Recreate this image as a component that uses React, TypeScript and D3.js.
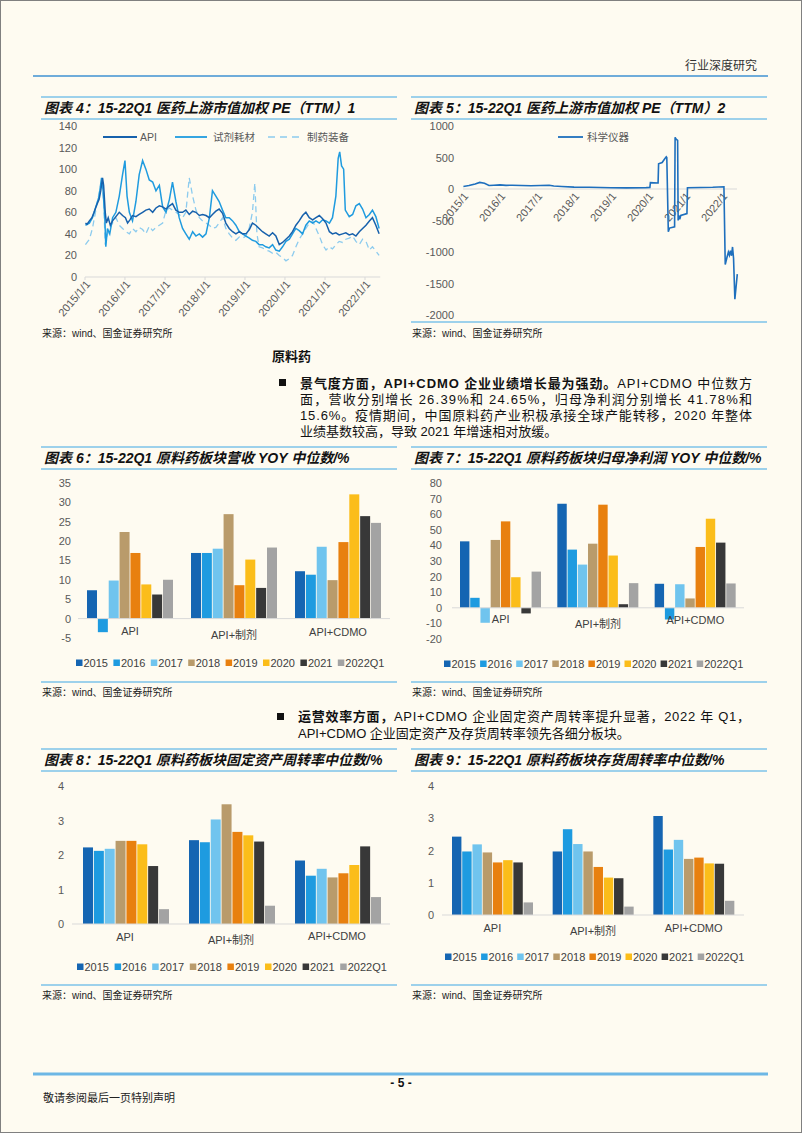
import React, { useEffect } from "react";
import * as d3 from "d3";

const W = 802;
const H = 1133;
const LATIN = "'Liberation Sans', Arial, 'Noto Sans CJK SC', sans-serif";
const BG = "#FEFBF1";
const TITLE_LINE = "#7DC3E8";

// ---------- Chart 4 data: PE (TTM) 1 ----------
const peAPI: [string, number][] = [
  ["2015-01-05", 50], ["2015-01-20", 49], ["2015-02-10", 52], ["2015-03-05", 55], ["2015-03-25", 60],
  ["2015-04-15", 66], ["2015-05-10", 72], ["2015-05-25", 80], ["2015-06-10", 92], ["2015-06-20", 85],
  ["2015-07-05", 60], ["2015-07-15", 50], ["2015-08-01", 55], ["2015-08-20", 48], ["2015-09-10", 52],
  ["2015-10-10", 56], ["2015-11-10", 60], ["2015-12-10", 57], ["2016-01-05", 55], ["2016-01-25", 50],
  ["2016-02-15", 53], ["2016-03-10", 57], ["2016-04-10", 56], ["2016-05-10", 58], ["2016-06-10", 60],
  ["2016-07-10", 62], ["2016-08-10", 63], ["2016-09-10", 60], ["2016-10-10", 64], ["2016-11-10", 66],
  ["2016-12-10", 65], ["2017-01-10", 63], ["2017-02-10", 66], ["2017-03-10", 68], ["2017-04-10", 62],
  ["2017-05-10", 60], ["2017-06-10", 60], ["2017-07-10", 62], ["2017-08-10", 58], ["2017-09-10", 61],
  ["2017-10-10", 60], ["2017-11-10", 57], ["2017-12-10", 58], ["2018-01-10", 57], ["2018-02-10", 55],
  ["2018-03-10", 58], ["2018-04-10", 61], ["2018-05-10", 63], ["2018-06-10", 59], ["2018-07-10", 50],
  ["2018-08-10", 45], ["2018-09-10", 42], ["2018-10-10", 40], ["2018-11-10", 42], ["2018-12-10", 40],
  ["2019-01-10", 40], ["2019-02-10", 44], ["2019-03-10", 50], ["2019-04-10", 48], ["2019-05-10", 45],
  ["2019-06-10", 42], ["2019-07-10", 40], ["2019-08-10", 38], ["2019-09-10", 41], ["2019-10-10", 38],
  ["2019-11-10", 30], ["2019-12-10", 32], ["2020-01-10", 35], ["2020-02-10", 38], ["2020-03-10", 42],
  ["2020-04-10", 48], ["2020-05-10", 52], ["2020-06-10", 57], ["2020-07-10", 60], ["2020-08-10", 55],
  ["2020-09-10", 53], ["2020-10-10", 55], ["2020-11-10", 57], ["2020-12-10", 54], ["2021-01-10", 50],
  ["2021-02-10", 42], ["2021-03-10", 40], ["2021-04-10", 41], ["2021-05-10", 39], ["2021-06-10", 40],
  ["2021-07-10", 41], ["2021-08-10", 39], ["2021-09-10", 40], ["2021-10-10", 38], ["2021-11-10", 42],
  ["2021-12-10", 45], ["2022-01-10", 48], ["2022-02-10", 52], ["2022-03-10", 55], ["2022-04-10", 48],
  ["2022-05-10", 40],
];
const peReagent: [string, number][] = [
  ["2015-01-05", 48], ["2015-02-10", 50], ["2015-03-10", 55], ["2015-04-10", 65], ["2015-05-10", 75],
  ["2015-06-01", 92], ["2015-06-15", 80], ["2015-07-01", 55], ["2015-07-10", 28], ["2015-07-25", 45],
  ["2015-08-15", 40], ["2015-09-10", 55], ["2015-10-10", 60], ["2015-11-10", 75], ["2015-12-10", 95],
  ["2016-01-01", 108], ["2016-01-20", 75], ["2016-02-10", 60], ["2016-03-10", 52], ["2016-04-10", 70],
  ["2016-05-10", 95], ["2016-06-10", 108], ["2016-07-10", 100], ["2016-08-10", 90], ["2016-09-10", 88],
  ["2016-10-10", 80], ["2016-11-10", 85], ["2016-12-10", 65], ["2017-01-10", 60], ["2017-02-10", 72],
  ["2017-03-10", 88], ["2017-04-10", 70], ["2017-05-10", 55], ["2017-06-10", 45], ["2017-07-10", 40],
  ["2017-08-10", 35], ["2017-09-10", 42], ["2017-10-10", 38], ["2017-11-10", 40], ["2017-12-10", 37],
  ["2018-01-10", 40], ["2018-02-10", 55], ["2018-03-10", 80], ["2018-04-10", 75], ["2018-05-10", 70],
  ["2018-06-10", 62], ["2018-07-10", 55], ["2018-08-10", 55], ["2018-09-10", 52], ["2018-10-10", 48],
  ["2018-11-10", 42], ["2018-12-10", 40], ["2019-01-10", 38], ["2019-02-10", 36], ["2019-03-10", 34],
  ["2019-04-10", 33], ["2019-05-10", 30], ["2019-06-10", 30], ["2019-07-10", 28], ["2019-08-10", 27],
  ["2019-09-10", 30], ["2019-10-10", 25], ["2019-11-10", 24], ["2019-12-10", 28], ["2020-01-10", 33],
  ["2020-02-10", 35], ["2020-03-10", 40], ["2020-04-10", 45], ["2020-05-10", 43], ["2020-06-10", 40],
  ["2020-07-10", 48], ["2020-08-10", 52], ["2020-09-10", 50], ["2020-10-10", 52], ["2020-11-10", 50],
  ["2020-12-10", 53], ["2021-01-10", 52], ["2021-02-10", 50], ["2021-03-10", 55], ["2021-04-10", 75],
  ["2021-05-01", 110], ["2021-05-15", 116], ["2021-06-01", 103], ["2021-06-20", 100], ["2021-07-05", 62],
  ["2021-08-10", 56], ["2021-09-10", 58], ["2021-10-10", 66], ["2021-11-10", 68], ["2021-12-10", 63],
  ["2022-01-10", 55], ["2022-02-10", 58], ["2022-03-10", 62], ["2022-04-10", 56], ["2022-05-10", 45],
];
const peEquipment: [string, number][] = [
  ["2015-01-05", 30], ["2015-02-10", 35], ["2015-03-10", 45], ["2015-04-10", 62], ["2015-05-10", 78],
  ["2015-06-05", 90], ["2015-06-20", 70], ["2015-07-05", 30], ["2015-07-20", 38], ["2015-08-15", 45],
  ["2015-09-10", 50], ["2015-10-10", 55], ["2015-11-10", 48], ["2015-12-10", 45], ["2016-01-10", 42],
  ["2016-02-10", 40], ["2016-03-10", 45], ["2016-04-10", 42], ["2016-05-10", 46], ["2016-06-10", 44],
  ["2016-07-10", 40], ["2016-08-10", 47], ["2016-09-10", 43], ["2016-10-10", 46], ["2016-11-10", 48],
  ["2016-12-10", 50], ["2017-01-10", 62], ["2017-02-10", 64], ["2017-03-10", 62], ["2017-04-10", 60],
  ["2017-05-10", 58], ["2017-06-10", 55], ["2017-07-10", 60], ["2017-08-10", 92], ["2017-09-10", 75],
  ["2017-10-10", 62], ["2017-11-10", 55], ["2017-12-10", 52], ["2018-01-10", 50], ["2018-02-10", 48],
  ["2018-03-10", 45], ["2018-04-10", 46], ["2018-05-10", 50], ["2018-06-10", 55], ["2018-07-10", 45],
  ["2018-08-10", 40], ["2018-09-10", 36], ["2018-10-10", 34], ["2018-11-10", 37], ["2018-12-10", 36],
  ["2019-01-10", 38], ["2019-02-10", 46], ["2019-03-10", 60], ["2019-04-01", 87], ["2019-04-20", 40],
  ["2019-05-10", 28], ["2019-06-10", 27], ["2019-07-10", 25], ["2019-08-10", 24], ["2019-09-10", 22],
  ["2019-10-10", 23], ["2019-11-10", 20], ["2019-12-10", 18], ["2020-01-10", 15], ["2020-02-10", 17],
  ["2020-03-10", 20], ["2020-04-10", 28], ["2020-05-10", 35], ["2020-06-10", 40], ["2020-07-10", 45],
  ["2020-08-10", 50], ["2020-09-10", 52], ["2020-10-10", 45], ["2020-11-10", 38], ["2020-12-10", 30],
  ["2021-01-10", 25], ["2021-02-10", 28], ["2021-03-10", 26], ["2021-04-10", 30], ["2021-05-10", 33],
  ["2021-06-10", 32], ["2021-07-10", 35], ["2021-08-10", 36], ["2021-09-10", 38], ["2021-10-10", 33],
  ["2021-11-10", 30], ["2021-12-10", 35], ["2022-01-10", 33], ["2022-02-10", 25], ["2022-03-10", 28],
  ["2022-04-10", 24], ["2022-05-10", 20],
];
const pe1Ticks = [0, 20, 40, 60, 80, 100, 120, 140];
const pe1XTicks = ["2015/1/1", "2016/1/1", "2017/1/1", "2018/1/1", "2019/1/1", "2020/1/1", "2021/1/1", "2022/1/1"];

// ---------- Chart 5 data: PE (TTM) 2 ----------
const peInstrument: [string, number][] = [
  ["2015-01-05", 40], ["2015-03-01", 55], ["2015-05-01", 80], ["2015-06-15", 105], ["2015-08-01", 90],
  ["2015-09-15", 55], ["2015-11-01", 60], ["2016-01-01", 65], ["2016-03-01", 58], ["2016-05-01", 60],
  ["2016-08-01", 55], ["2016-11-01", 52], ["2017-02-01", 55], ["2017-05-01", 60], ["2017-06-15", 48],
  ["2017-09-01", 40], ["2018-01-01", 30], ["2018-06-01", 28], ["2019-01-01", 20], ["2019-06-01", 18],
  ["2019-12-15", 22], ["2020-01-20", 25], ["2020-01-25", 100], ["2020-04-10", 95], ["2020-04-15", 400],
  ["2020-05-20", 420], ["2020-06-15", 480], ["2020-06-30", 510], ["2020-07-05", 500], ["2020-07-20", -680],
  ["2020-08-01", -620], ["2020-09-20", -600], ["2020-09-25", 820], ["2020-10-05", 790], ["2020-10-20", 770],
  ["2020-10-25", -500], ["2020-11-01", -420], ["2020-11-10", -480], ["2020-11-20", -420], ["2021-01-20", -390],
  ["2021-01-25", 20], ["2021-06-01", 25], ["2021-10-01", 28], ["2022-01-20", 35], ["2022-02-02", -1200],
  ["2022-02-20", -1080], ["2022-03-05", -1000], ["2022-03-15", -1050], ["2022-03-25", -980], ["2022-04-05", -1060],
  ["2022-04-15", -920], ["2022-04-25", -1100], ["2022-05-08", -1750], ["2022-05-20", -1550], ["2022-06-01", -1350],
];
const pe2Ticks = [1000, 500, 0, -500, -1000, -1500, -2000];
const pe2XTicks = ["2015/1", "2016/1", "2017/1", "2018/1", "2019/1", "2020/1", "2021/1", "2022/1"];

// ---------- Bar charts ----------
const years = ["2015", "2016", "2017", "2018", "2019", "2020", "2021", "2022Q1"];
const yearColors = ["#1565B2", "#1E9BE0", "#70C4EE", "#B99B6B", "#E8800F", "#FBBD1A", "#383838", "#A3A3A3"];
const categories = ["API", "API+制剂", "API+CDMO"];

const revenueYoY = [
  [7.3, -3.5, 9.8, 22.3, 16.9, 8.8, 6.2, 10.0],
  [16.9, 16.9, 18.0, 26.9, 8.6, 15.2, 7.9, 18.3],
  [12.2, 11.3, 18.5, 9.9, 19.7, 32.0, 26.39, 24.65],
];
const profitYoY = [
  [42.6, 6.4, -9.6, 43.5, 55.4, 19.6, -3.6, 23.2],
  [66.7, 37.3, 27.7, 41.1, 66.1, 33.5, 2.3, 15.8],
  [15.4, -7.5, 15.1, 6.0, 39.0, 57.1, 41.78, 15.6],
];
const fixedAssetTurnover = [
  [2.22, 2.12, 2.18, 2.41, 2.41, 2.31, 1.68, 0.43],
  [2.43, 2.37, 3.03, 3.47, 2.67, 2.57, 2.39, 0.53],
  [1.84, 1.4, 1.6, 1.35, 1.47, 1.71, 2.25, 0.78],
];
const inventoryTurnover = [
  [2.43, 1.97, 2.19, 1.94, 1.63, 1.7, 1.63, 0.39],
  [1.97, 2.66, 2.2, 1.97, 1.49, 1.16, 1.14, 0.26],
  [3.07, 2.03, 2.33, 1.74, 1.78, 1.6, 1.59, 0.44],
];
const revenueTicks = [-5, 0, 5, 10, 15, 20, 25, 30, 35];
const profitTicks = [-20, -10, 0, 10, 20, 30, 40, 50, 60, 70, 80];
const turnoverTicks = [0, 1, 2, 3, 4];

const parse = d3.timeParse("%Y-%m-%d");

function TitleBlock({ x1, x2, top, text }: { x1: number; x2: number; top: number; text: string }) {
  return (
    <g>
      <line x1={x1} x2={x2} y1={top} y2={top} stroke={TITLE_LINE} strokeWidth={1.5} />
      <text x={x1 + 3} y={top + 16} fontFamily={LATIN} fontSize={14} fontWeight="bold" fontStyle="italic" fill="#111">
        {text}
      </text>
      <line x1={x1} x2={x2} y1={top + 22} y2={top + 22} stroke={TITLE_LINE} strokeWidth={1.5} />
    </g>
  );
}

function Source({ x, y }: { x: number; y: number }) {
  return (
    <text x={x} y={y + 4} fontFamily={LATIN} fontSize={10} fill="#222">
      来源：wind、国金证券研究所
    </text>
  );
}

type BarProps = {
  data: number[][];
  domain: [number, number];
  ticks: number[];
  yRange: [number, number];
  xRange: [number, number];
  inner: [number, number];
  tickX: number;
  catY: number[];
  legendX: number;
  legendStep: number;
  legendY: number;
};

function BarChart(p: BarProps) {
  const y = d3.scaleLinear().domain(p.domain).range(p.yRange);
  const x0 = d3.scaleBand<string>().domain(categories).range(p.xRange).padding(0);
  const x1 = d3.scaleBand<string>().domain(years).range(p.inner).paddingInner(0.08);
  const zero = y(0);
  return (
    <g>
      {p.ticks.map((t) => (
        <text key={t} x={p.tickX} y={y(t) + 4} textAnchor="end" fontFamily={LATIN} fontSize={11} fill="#595959">
          {t}
        </text>
      ))}
      {categories.map((c, ci) => (
        <g key={c} transform={`translate(${x0(c)},0)`}>
          {years.map((yr, yi) => {
            const v = p.data[ci][yi];
            return (
              <rect
                key={yr}
                x={x1(yr)}
                y={Math.min(y(v), zero)}
                width={x1.bandwidth()}
                height={Math.abs(y(v) - zero)}
                fill={yearColors[yi]}
              />
            );
          })}
        </g>
      ))}
      <line x1={p.xRange[0]} x2={p.xRange[1]} y1={zero} y2={zero} stroke="#D9D9D9" strokeWidth={1} />
      {categories.map((c, ci) => (
        <text
          key={c}
          x={(x0(c) as number) + x0.bandwidth() / 2}
          y={p.catY[ci] + 4}
          textAnchor="middle"
          fontFamily={LATIN}
          fontSize={11}
          fill="#404040"
        >
          {c}
        </text>
      ))}
      {years.map((yr, i) => (
        <g key={yr} transform={`translate(${p.legendX + i * p.legendStep},${p.legendY})`}>
          <rect x={0} y={-3.5} width={6.5} height={6.5} fill={yearColors[i]} />
          <text x={7.5} y={4} fontFamily={LATIN} fontSize={11} fill="#404040">
            {yr}
          </text>
        </g>
      ))}
    </g>
  );
}

function PEChart1() {
  const x = d3.scaleTime().domain([parse("2015-01-01")!, parse("2022-01-01")!]).range([85, 365]);
  const y = d3.scaleLinear().domain([0, 140]).range([277, 126]);
  const line = d3
    .line<[string, number]>()
    .x((d) => x(parse(d[0])!))
    .y((d) => y(d[1]));
  const xEnd = x(parse("2022-05-20")!);
  return (
    <g>
      {pe1Ticks.map((t) => (
        <text key={t} x={77} y={y(t) + 4} textAnchor="end" fontFamily={LATIN} fontSize={11} fill="#595959">
          {t}
        </text>
      ))}
      <line x1={85} x2={xEnd} y1={277} y2={277} stroke="#D9D9D9" />
      {pe1XTicks.map((lab, i) => {
        const tx = x(new Date(2015 + i, 0, 1));
        return (
          <g key={lab}>
            <line x1={tx} x2={tx} y1={277} y2={280} stroke="#D9D9D9" />
            <text
              transform={`translate(${tx + 3},${282}) rotate(-50)`}
              textAnchor="end"
              dy="0.35em"
              fontFamily={LATIN}
              fontSize={11}
              fill="#595959"
            >
              {lab}
            </text>
          </g>
        );
      })}
      <path d={line(peEquipment) || ""} fill="none" stroke="#8CCBEE" strokeWidth={1.3} strokeDasharray="6,4" />
      <path d={line(peReagent) || ""} fill="none" stroke="#1F9BDF" strokeWidth={1.5} />
      <path d={line(peAPI) || ""} fill="none" stroke="#1761AC" strokeWidth={1.5} />
      <g fontFamily={LATIN} fontSize={10.5} fill="#595959">
        <line x1={103} x2={137} y1={137} y2={137} stroke="#1761AC" strokeWidth={1.8} />
        <text x={140} y={141}>API</text>
        <line x1={175} x2={207} y1={137} y2={137} stroke="#1F9BDF" strokeWidth={1.8} />
        <text x={213} y={141}>试剂耗材</text>
        <line x1={268} x2={302} y1={137} y2={137} stroke="#8CCBEE" strokeWidth={1.5} strokeDasharray="7,5" />
        <text x={307} y={141}>制药装备</text>
      </g>
    </g>
  );
}

function PEChart2() {
  const x = d3.scaleTime().domain([parse("2015-01-01")!, parse("2022-01-01")!]).range([463, 722]);
  const y = d3.scaleLinear().domain([-2000, 1000]).range([315, 126]);
  const line = d3
    .line<[string, number]>()
    .x((d) => x(parse(d[0])!))
    .y((d) => y(d[1]));
  const zero = y(0);
  return (
    <g>
      {pe2Ticks.map((t) => (
        <text key={t} x={454} y={y(t) + 4} textAnchor="end" fontFamily={LATIN} fontSize={11} fill="#595959">
          {t}
        </text>
      ))}
      <line x1={463} x2={737} y1={zero} y2={zero} stroke="#D9D9D9" />
      {pe2XTicks.map((lab, i) => {
        const tx = x(new Date(2015 + i, 0, 1));
        return (
          <text
            key={lab}
            transform={`translate(${tx + 3},${zero + 5}) rotate(-50)`}
            textAnchor="end"
            dy="0.35em"
            fontFamily={LATIN}
            fontSize={11}
            fill="#595959"
          >
            {lab}
          </text>
        );
      })}
      <path d={line(peInstrument) || ""} fill="none" stroke="#1E6FBD" strokeWidth={1.6} />
      <line x1={558} x2={583} y1={137} y2={137} stroke="#1E6FBD" strokeWidth={1.8} />
      <text x={587} y={141} fontFamily={LATIN} fontSize={10.5} fill="#595959">
        科学仪器
      </text>
    </g>
  );
}

function Paragraphs() {
  const f = { fontFamily: LATIN, fontSize: 13, fill: "#111" };
  return (
    <g>
      <text x={272} y={361} {...f} fontWeight="bold">原料药</text>
      <rect x={279} y={379} width={7} height={7} fill="#111" />
      <text x={300} y={387.5} {...f} textLength={452} lengthAdjust="spacing">
        <tspan fontWeight="bold">景气度方面，API+CDMO 企业业绩增长最为强劲。</tspan>
        <tspan>API+CDMO 中位数方</tspan>
      </text>
      <text x={300} y={403.5} {...f} textLength={452} lengthAdjust="spacing">
        面，营收分别增长 26.39%和 24.65%，归母净利润分别增长 41.78%和
      </text>
      <text x={300} y={419.5} {...f} textLength={452} lengthAdjust="spacing">
        15.6%。疫情期间，中国原料药产业积极承接全球产能转移，2020 年整体
      </text>
      <text x={300} y={435.5} {...f}>
        业绩基数较高，导致 2021 年增速相对放缓。
      </text>
      <rect x={277} y={713} width={7} height={7} fill="#111" />
      <text x={298} y={721} {...f} textLength={452} lengthAdjust="spacing">
        <tspan fontWeight="bold">运营效率方面，</tspan>
        <tspan>API+CDMO 企业固定资产周转率提升显著，2022 年 Q1，</tspan>
      </text>
      <text x={298} y={738} {...f}>
        API+CDMO 企业固定资产及存货周转率领先各细分板块。
      </text>
    </g>
  );
}

export default function App() {
  useEffect(() => {
    document.body.style.margin = "0";
    document.body.style.background = BG;
  }, []);
  return (
    <svg
      width={W}
      height={H}
      viewBox={`0 0 ${W} ${H}`}
      style={{ position: "absolute", left: 0, top: 0, display: "block" }}
    >
      <rect x={0} y={0} width={W} height={H} fill={BG} />
      <rect x={0.5} y={0.5} width={W - 1} height={H - 1} fill="none" stroke="#808080" />
      {/* header */}
      <text x={757} y={70} textAnchor="end" fontFamily={LATIN} fontSize={12} fill="#333">
        行业深度研究
      </text>
      <line x1={33} x2={768} y1={76} y2={76} stroke="#3F92D2" strokeWidth={1.5} />

      {/* charts 4 & 5 */}
      <TitleBlock x1={41} x2={397} top={97} text="图表 4：15-22Q1 医药上游市值加权 PE（TTM）1" />
      <TitleBlock x1={411} x2={767} top={97} text="图表 5：15-22Q1 医药上游市值加权 PE（TTM）2" />
      <PEChart1 />
      <PEChart2 />
      <line x1={411} x2={767} y1={322} y2={322} stroke={TITLE_LINE} strokeWidth={1.5} />
      <Source x={42} y={333} />
      <Source x={412} y={333} />

      <Paragraphs />

      {/* charts 6 & 7 */}
      <TitleBlock x1={41} x2={397} top={447} text="图表 6：15-22Q1 原料药板块营收 YOY 中位数/%" />
      <TitleBlock x1={411} x2={767} top={447} text="图表 7：15-22Q1 原料药板块归母净利润 YOY 中位数/%" />
      <BarChart
        data={revenueYoY}
        domain={[-5, 35]}
        ticks={revenueTicks}
        yRange={[638, 482.7]}
        xRange={[78, 390]}
        inner={[9, 95]}
        tickX={71}
        catY={[631, 635, 632]}
        legendX={76}
        legendStep={37.4}
        legendY={663}
      />
      <BarChart
        data={profitYoY}
        domain={[-20, 80]}
        ticks={profitTicks}
        yRange={[639, 483]}
        xRange={[452, 744]}
        inner={[8, 89]}
        tickX={442}
        catY={[619, 624, 620]}
        legendX={444}
        legendStep={36.1}
        legendY={664}
      />
      <line x1={41} x2={397} y1={682} y2={682} stroke={TITLE_LINE} strokeWidth={1.5} />
      <line x1={411} x2={767} y1={682} y2={682} stroke={TITLE_LINE} strokeWidth={1.5} />
      <Source x={42} y={692} />
      <Source x={412} y={692} />

      {/* charts 8 & 9 */}
      <TitleBlock x1={41} x2={397} top={749} text="图表 8：15-22Q1 原料药板块固定资产周转率中位数/%" />
      <TitleBlock x1={411} x2={767} top={749} text="图表 9：15-22Q1 原料药板块存货周转率中位数/%" />
      <BarChart
        data={fixedAssetTurnover}
        domain={[0, 4]}
        ticks={turnoverTicks}
        yRange={[924, 786]}
        xRange={[72, 390]}
        inner={[11, 97]}
        tickX={64}
        catY={[937, 940, 936]}
        legendX={77}
        legendStep={37.6}
        legendY={967}
      />
      <BarChart
        data={inventoryTurnover}
        domain={[0, 4]}
        ticks={turnoverTicks}
        yRange={[915, 786]}
        xRange={[442, 744]}
        inner={[10, 91]}
        tickX={434}
        catY={[928, 931, 928]}
        legendX={445}
        legendStep={36.1}
        legendY={957}
      />
      <line x1={41} x2={397} y1={985} y2={985} stroke={TITLE_LINE} strokeWidth={1.5} />
      <line x1={411} x2={767} y1={985} y2={985} stroke={TITLE_LINE} strokeWidth={1.5} />
      <Source x={42} y={995} />
      <Source x={412} y={995} />

      {/* footer */}
      <line x1={33} x2={768} y1={1074} y2={1074} stroke="#6DB7E5" strokeWidth={3} />
      <text x={401} y={1087} textAnchor="middle" fontFamily={LATIN} fontSize={12} fontWeight="bold" fill="#111">
        - 5 -
      </text>
      <text x={43} y={1102} fontFamily={LATIN} fontSize={11} fill="#222">
        敬请参阅最后一页特别声明
      </text>
    </svg>
  );
}
